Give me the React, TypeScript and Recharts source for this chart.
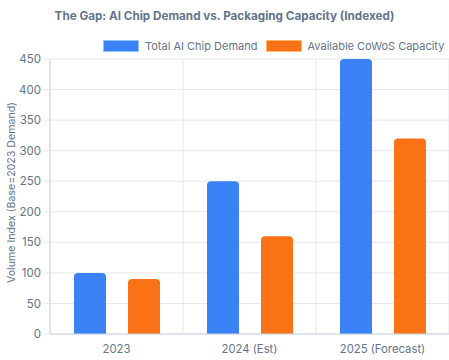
import React from 'react';
import { BarChart, Bar, XAxis, YAxis, CartesianGrid } from 'recharts';

const categories = ['2023', '2024 (Est)', '2025 (Forecast)'];
const demand = [100, 250, 450];
const capacity = [90, 160, 320];
const yTicks = [0, 50, 100, 150, 200, 250, 300, 350, 400, 450];

const data = categories.map((name, i) => ({ name, demand: demand[i], capacity: capacity[i] }));

const FONT = 'Inter, "Noto Sans", sans-serif';
const TEXT = '#64748b';
const GRID = '#e5e7eb';

const LegendBox = () => (
  <div
    style={{
      position: 'absolute', top: 39, left: 103, display: 'flex', alignItems: 'center',
      whiteSpace: 'nowrap', fontFamily: FONT, fontSize: 11, color: TEXT, lineHeight: '14px',
    }}
  >
    <span style={{ width: 34, height: 10, background: '#3b82f6', border: '1px solid #93c5fd', marginRight: 6 }} />
    <span style={{ marginRight: 8 }}>Total AI Chip Demand</span>
    <span style={{ width: 34, height: 10, background: '#f97316', border: '1px solid #fdba74', marginRight: 6 }} />
    <span>Available CoWoS Capacity</span>
  </div>
);

export default function App() {
  return (
    <div style={{ position: 'absolute', left: 0, top: 0, width: 449, height: 360, background: '#fff' }}>
      <div
        style={{
          position: 'absolute', top: 9, left: 0, width: 449, textAlign: 'center',
          fontFamily: FONT, fontSize: 11.7, fontWeight: 700, color: TEXT,
        }}
      >
        The Gap: AI Chip Demand vs. Packaging Capacity (Indexed)
      </div>
      <LegendBox />
      <BarChart
        width={449}
        height={360}
        data={data}
        margin={{ top: 59, right: 0, bottom: 0, left: 0 }}
        barCategoryGap={24}
        barGap={22}
      >
        <CartesianGrid
          stroke={GRID}
          verticalCoordinatesGenerator={({ offset }: any) =>
            [0, 1, 2, 3].map((i) => offset.left + (i * offset.width) / 3)
          }
        />
        <XAxis
          dataKey="name"
          height={26}
          tickLine={false}
          tickMargin={5}
          axisLine={{ stroke: '#cbd5e1' }}
          tick={{ fill: TEXT, fontSize: 11.3, fontFamily: FONT }}
        />
        <XAxis
          xAxisId="edges"
          type="number"
          domain={[0, 3]}
          ticks={[0, 1, 2, 3]}
          height={0}
          tick={false}
          tickSize={7}
          axisLine={false}
          tickLine={{ stroke: GRID }}
        />
        <YAxis
          width={50}
          domain={[0, 450]}
          ticks={yTicks}
          interval={0}
          tickSize={6}
          tickMargin={3}
          axisLine={{ stroke: '#cbd5e1' }}
          tickLine={{ stroke: GRID }}
          tick={{ fill: TEXT, fontSize: 11.5, fontFamily: FONT }}
          label={{
            value: 'Volume Index (Base=2023 Demand)',
            angle: -90,
            position: 'insideLeft',
            offset: 11,
            dy: -4,
            style: { textAnchor: 'middle', fill: TEXT, fontSize: 10.6, fontFamily: FONT },
          }}
        />
        <Bar dataKey="demand" name="Total AI Chip Demand" fill="#3b82f6" radius={[4, 4, 0, 0]} isAnimationActive={false} />
        <Bar dataKey="capacity" name="Available CoWoS Capacity" fill="#f97316" radius={[4, 4, 0, 0]} isAnimationActive={false} />
      </BarChart>
    </div>
  );
}
